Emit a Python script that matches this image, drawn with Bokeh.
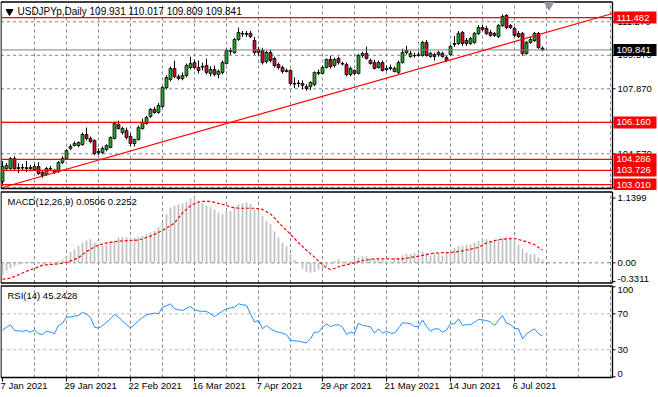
from bokeh.plotting import figure
from bokeh.layouts import column
from bokeh.models import Range1d, ColumnDataSource
from bokeh.core.properties import value
from bokeh.embed import file_html
from bokeh.resources import INLINE

# ---------------- data ----------------
opens = [103.16, 103.82, 103.82, 104.33, 103.87, 103.85, 103.82, 103.87, 103.77, 103.92,
         103.62, 103.52, 103.82, 103.72, 103.67, 104.13, 104.33, 104.84, 104.99, 104.99,
         105.04, 105.55, 105.35, 105.24, 104.63, 104.63, 104.79, 104.89, 105.35, 106.06,
         105.65, 105.75, 105.45, 105.09, 105.29, 105.85, 106.11, 106.46, 106.82, 106.67,
         106.97, 107.93, 108.34, 108.90, 108.49, 108.39, 108.54, 108.95, 109.20, 108.95,
         109.00, 109.05, 108.65, 108.85, 108.60, 108.70, 109.15, 109.76, 109.71, 110.37,
         110.68, 110.63, 110.68, 110.32, 109.86, 109.81, 109.25, 109.71, 109.41, 109.10,
         108.95, 108.80, 108.80, 108.14, 108.14, 108.14, 107.98, 107.98, 108.09, 108.65,
         108.65, 108.95, 109.36, 109.05, 109.41, 109.15, 109.10, 108.59, 108.80, 108.65,
         109.56, 109.66, 109.31, 109.20, 108.95, 109.20, 108.90, 108.95, 108.75, 108.70,
         109.20, 109.71, 109.51, 109.56, 109.56, 109.56, 110.22, 109.51, 109.61, 109.61,
         109.66, 109.46, 109.61, 110.12, 110.17, 110.73, 110.32, 110.17, 110.22, 110.68,
         110.98, 110.93, 110.73, 110.68, 110.52, 111.08, 111.59, 111.08, 110.93, 110.68,
         110.68, 109.66, 110.22, 110.32, 110.68, 109.931]
highs = [104.20, 104.10, 104.40, 104.45, 104.10, 104.05, 104.20, 104.00, 104.05, 104.15,
         103.75, 103.90, 103.95, 103.80, 104.20, 104.45, 104.80, 105.05, 105.20, 105.20,
         105.65, 105.90, 105.45, 105.30, 104.85, 104.95, 105.05, 105.45, 106.20, 106.25,
         105.95, 105.90, 105.60, 105.35, 106.00, 106.35, 106.50, 106.90, 106.95, 107.15,
         108.00, 108.55, 109.00, 109.30, 108.60, 108.70, 109.15, 109.50, 109.35, 109.30,
         109.20, 109.40, 109.00, 109.05, 108.85, 109.30, 109.90, 109.95, 110.45, 110.97,
         110.80, 110.80, 110.80, 110.50, 110.00, 109.95, 109.80, 109.85, 109.50, 109.20,
         109.05, 108.90, 108.85, 108.45, 108.30, 108.30, 108.10, 108.25, 108.75, 108.85,
         109.05, 109.40, 109.55, 109.45, 109.50, 109.25, 109.20, 109.00, 108.85, 109.65,
         109.75, 110.00, 109.40, 109.35, 109.30, 109.30, 109.05, 109.10, 109.00, 109.30,
         109.90, 110.05, 109.80, 109.70, 109.75, 110.30, 110.35, 109.75, 109.70, 109.80,
         109.75, 109.55, 110.10, 110.55, 110.80, 110.80, 110.45, 110.50, 110.75, 111.10,
         111.10, 111.05, 110.85, 110.75, 111.15, 111.65, 111.66, 111.15, 111.00, 110.80,
         110.75, 110.30, 110.50, 110.75, 110.75, 110.017]
lows = [102.95, 103.75, 103.78, 103.75, 103.60, 103.70, 103.65, 103.70, 103.70, 103.50,
        103.35, 103.45, 103.70, 103.55, 103.60, 104.05, 104.25, 104.75, 104.95, 104.90,
        104.98, 105.25, 105.10, 104.50, 104.50, 104.55, 104.70, 104.85, 105.30, 105.80,
        105.55, 105.30, 104.95, 104.95, 105.25, 105.80, 106.05, 106.40, 106.60, 106.60,
        106.90, 107.85, 108.25, 108.40, 108.30, 108.30, 108.45, 108.85, 108.85, 108.65,
        108.80, 108.60, 108.50, 108.50, 108.40, 108.60, 109.10, 109.60, 109.65, 110.30,
        110.50, 110.50, 110.45, 109.60, 109.55, 109.10, 109.15, 109.20, 108.95, 108.85,
        108.65, 108.70, 108.05, 107.90, 107.95, 107.85, 107.78, 107.80, 108.00, 108.55,
        108.60, 108.90, 108.90, 108.95, 109.10, 109.05, 108.50, 108.50, 108.55, 108.60,
        109.45, 109.35, 109.10, 108.85, 108.90, 108.75, 108.75, 108.80, 108.70, 108.60,
        109.15, 109.60, 109.45, 109.45, 109.50, 109.50, 109.50, 109.45, 109.30, 109.50,
        109.45, 109.25, 109.55, 110.00, 110.10, 110.05, 110.05, 110.10, 110.15, 110.60,
        110.80, 110.60, 110.50, 110.50, 110.45, 111.00, 110.90, 110.90, 110.50, 110.45,
        109.55, 109.60, 110.15, 110.25, 109.90, 109.809]
closes = [103.93, 103.98, 104.33, 103.82, 103.82, 103.87, 103.87, 103.82, 103.92, 103.57,
          103.47, 103.82, 103.80, 103.62, 104.13, 104.33, 104.74, 104.94, 105.09, 105.14,
          105.55, 105.35, 105.19, 104.58, 104.69, 104.84, 104.99, 105.40, 106.11, 105.85,
          105.85, 105.40, 105.09, 105.29, 105.90, 106.16, 106.41, 106.82, 106.67, 107.02,
          107.93, 108.44, 108.90, 108.49, 108.39, 108.54, 109.05, 109.15, 108.95, 108.80,
          108.97, 108.70, 108.85, 108.60, 108.75, 109.20, 109.81, 109.81, 110.37, 110.73,
          110.65, 110.68, 110.52, 109.71, 109.71, 109.20, 109.71, 109.31, 109.05, 108.95,
          108.75, 108.75, 108.14, 108.11, 108.16, 108.04, 107.88, 108.19, 108.70, 108.70,
          108.95, 109.36, 109.00, 109.36, 109.20, 109.13, 108.59, 108.90, 108.65, 109.56,
          109.66, 109.41, 109.15, 108.90, 109.20, 108.80, 108.85, 108.90, 108.90, 109.20,
          109.71, 109.81, 109.66, 109.55, 109.60, 110.22, 109.56, 109.66, 109.51, 109.71,
          109.51, 109.31, 110.02, 110.17, 110.68, 110.17, 110.17, 110.42, 110.68, 110.98,
          110.88, 110.68, 110.58, 110.58, 111.08, 111.54, 110.98, 110.98, 110.58, 110.52,
          109.66, 110.22, 110.37, 110.68, 109.96, 109.841]

macd_main = [-0.20, -0.14, -0.09, -0.05, -0.03, -0.01, 0.01, 0.02, 0.02, 0.01,
             -0.01, -0.01, 0.00, -0.01, 0.02, 0.05, 0.10, 0.18, 0.23, 0.29,
             0.35, 0.39, 0.41, 0.35, 0.32, 0.30, 0.32, 0.38, 0.39, 0.44,
             0.45, 0.44, 0.44, 0.44, 0.45, 0.47, 0.50, 0.53, 0.56, 0.62,
             0.70, 0.85, 0.97, 1.00, 1.03, 1.04, 1.06, 1.13, 1.13, 1.09,
             1.04, 1.00, 0.97, 0.94, 0.88, 0.85, 0.91, 0.91, 0.97, 1.02,
             1.04, 1.06, 1.03, 0.94, 0.91, 0.82, 0.73, 0.68, 0.55, 0.44,
             0.35, 0.29, 0.15, 0.05, 0.00, -0.10, -0.15, -0.17, -0.16, -0.12,
             -0.09, -0.06, -0.01, 0.03, 0.06, 0.02, 0.02, 0.03, 0.06, 0.09,
             0.11, 0.11, 0.08, 0.06, 0.05, 0.05, 0.03, 0.02, 0.08, 0.09,
             0.13, 0.15, 0.15, 0.17, 0.18, 0.20, 0.17, 0.12, 0.14, 0.17,
             0.12, 0.17, 0.23, 0.26, 0.29, 0.29, 0.31, 0.32, 0.35, 0.38,
             0.41, 0.41, 0.38, 0.39, 0.41, 0.44, 0.45, 0.45, 0.41, 0.32,
             0.24, 0.18, 0.15, 0.15, 0.09, 0.0506]
macd_signal = [-0.29, -0.28, -0.27, -0.24, -0.21, -0.18, -0.15, -0.12, -0.10, -0.07,
               -0.04, -0.035, -0.03, -0.025, -0.02, -0.005, 0.01, 0.035, 0.06, 0.09,
               0.145, 0.20, 0.24, 0.28, 0.31, 0.33, 0.35, 0.36, 0.37, 0.38,
               0.385, 0.39, 0.393, 0.396, 0.40, 0.42, 0.445, 0.47, 0.50, 0.535,
               0.57, 0.61, 0.655, 0.70, 0.79, 0.88, 0.94, 1.00, 1.04, 1.07,
               1.08, 1.08, 1.08, 1.065, 1.045, 1.03, 1.01, 0.98, 0.97, 0.96,
               0.96, 0.96, 0.96, 0.96, 0.95, 0.94, 0.90, 0.86, 0.79, 0.71,
               0.64, 0.57, 0.50, 0.43, 0.35, 0.29, 0.22, 0.16, 0.10, 0.03,
               -0.03, -0.09, -0.117, -0.10, -0.07, -0.05, -0.035, -0.015, 0.0, 0.02,
               0.04, 0.05, 0.06, 0.07, 0.07, 0.07, 0.07, 0.07, 0.07, 0.07,
               0.07, 0.08, 0.095, 0.105, 0.117, 0.13, 0.145, 0.16, 0.167, 0.173,
               0.18, 0.18, 0.18, 0.19, 0.20, 0.21, 0.225, 0.24, 0.255, 0.27,
               0.31, 0.35, 0.37, 0.39, 0.405, 0.415, 0.42, 0.425, 0.43, 0.41,
               0.39, 0.37, 0.345, 0.32, 0.27, 0.2252]

rsi = [52, 55, 57.8, 51.5, 51, 50.5, 51.5, 49.5, 52, 48,
       47, 50.7, 49.6, 47.8, 57, 59.6, 66.2, 66.5, 67.5, 68.1,
       71.8, 69.5, 66, 55.1, 54, 57, 60.5, 64.5, 69.3, 66.3,
       61.9, 58, 54.4, 57.8, 62.5, 66, 68.9, 69.8, 70.8, 70,
       77.4, 79, 81.1, 75.5, 74.5, 73.7, 76, 78.1, 74.4, 73.2,
       72.8, 72.6, 70, 67, 70, 73, 75.5, 76.5, 77.4, 81.1,
       80, 79.3, 70, 60.8, 62.6, 53.4, 57, 53.5, 50.8, 49.6,
       48.5, 47, 40.3, 40, 39.6, 38.5, 37.8, 42.2, 49.6, 49.6,
       55.2, 58.9, 55.5, 57.5, 57.8, 55.2, 47, 49.6, 48.5, 59.6,
       57, 56.5, 55.5, 48.5, 53.3, 48.5, 50.7, 48.5, 48.5, 54,
       60, 59.6, 59, 55.9, 55.9, 63.3, 56, 50.7, 53.3, 53.3,
       49.6, 52, 58.9, 58.9, 64.4, 57, 58, 58, 60.5, 63.7,
       63.3, 62.5, 61, 57, 63, 68.1, 59.6, 58.1, 54, 53.3,
       42.2, 47.8, 50.7, 53.3, 47.8, 45.2428]

date_ticks = [0, 16, 32, 48, 64, 80, 96, 112, 128]
date_labels = ["7 Jan 2021", "29 Jan 2021", "22 Feb 2021", "16 Mar 2021", "7 Apr 2021",
               "29 Apr 2021", "21 May 2021", "14 Jun 2021", "6 Jul 2021"]
grid_bars = [8, 16, 24, 32, 40, 48, 56, 64, 72, 80, 88, 96, 104, 112, 120, 128, 136, 144, 152]
price_ticks = [111.270, 109.570, 107.870, 106.170, 104.570, 102.870]
price_tick_labels = ["111.270", "109.570", "107.870", "106.170", "104.570", "102.870"]
red_levels = [111.482, 106.160, 104.286, 103.726, 103.010]
red_level_labels = ["111.482", "106.160", "104.286", "103.726", "103.010"]
bid_level = 109.841
bid_label = "109.841"
trend_x = [0, 152.5]
trend_y = [102.86, 111.69]
macd_ticks = [1.1399, 0.0, -0.3311]
macd_tick_labels = ["1.1399", "0.00", "-0.3311"]
rsi_ticks = [100, 70, 30, 0]
rsi_tick_labels = ["100", "70", "30", "0"]
rsi_levels = [70, 30]
title_main = "USDJPYp,Daily  109.931 110.017 109.809 109.841"
title_macd = "MACD(12,26,9) 0.0506 0.2252"
title_rsi = "RSI(14) 45.2428"

# ---------------- layout / style ----------------
FONT = value("Liberation Sans")
W = 658
PXB = 4.0                      # pixels per bar
X_AT0 = -2 / PXB               # bar value at the left pixel edge


def xpx(px):
    return X_AT0 + px / PXB


XAX = xpx(612)                 # price-axis line
XLEFT = xpx(0.5)
GRID = "#778899"
BULL = "#22a822"
BEAR = "#c8102e"
x_range = Range1d(X_AT0, xpx(W))


def make_panel(h, y0, y1):
    p = figure(width=W, height=h, x_range=x_range, y_range=Range1d(y0, y1),
               output_backend="svg", toolbar_location=None, min_border=0,
               x_axis_location=None, y_axis_location=None)
    p.outline_line_color = None
    p.grid.visible = False
    p.background_fill_color = "white"
    p.border_fill_color = "white"
    ypx = lambda py: y1 - py * (y1 - y0) / h
    return p, ypx


def frame_and_grid(p, ypx, top, bottom, hticks, hgrid_color=GRID):
    yt, yb = ypx(top), ypx(bottom)
    p.segment(x0=grid_bars, y0=[yb] * len(grid_bars), x1=grid_bars, y1=[yt] * len(grid_bars),
              line_color=GRID, line_dash="3 3", line_width=1)
    if hticks:
        p.segment(x0=[XLEFT] * len(hticks), y0=hticks, x1=[XAX] * len(hticks), y1=hticks,
                  line_color=hgrid_color, line_dash="3 3", line_width=1)
    p.segment(x0=[XLEFT, XLEFT, XLEFT, XAX], y0=[yt, yb, yb, yb],
              x1=[XAX, XAX, XLEFT, XAX], y1=[yt, yb, yt, yt],
              line_color="black", line_width=1.3)


def right_ticks(p, ticks, labels, baselines=None):
    n = len(ticks)
    p.segment(x0=[XAX] * n, y0=ticks, x1=[xpx(615)] * n, y1=ticks, line_color="black",
              line_width=1)
    if baselines is None:
        baselines = ["middle"] * n
    for t, lab, bl in zip(ticks, labels, baselines):
        p.text(x=[xpx(617)], y=[t], text=[lab], text_font=FONT, text_font_size="9.5px",
               text_color="black", text_align="left", text_baseline=bl)


# ---- main price panel ----
H1 = 190
p1, y1px = make_panel(H1, 102.707, 112.351)
frame_and_grid(p1, y1px, 1.5, 188, price_ticks)

idx = list(range(len(opens)))
src = ColumnDataSource(dict(
    x=idx, h=highs, l=lows,
    top=[max(a, b) for a, b in zip(opens, closes)],
    bot=[min(a, b) for a, b in zip(opens, closes)],
    col=[BULL if c >= o else BEAR for o, c in zip(opens, closes)],
))
p1.segment(x0="x", y0="h", x1="x", y1="l", source=src, line_color="black", line_width=1)
p1.vbar(x="x", width=0.72, top="top", bottom="bot", source=src,
        fill_color="col", line_color="black", line_width=0.8)

p1.segment(x0=[XLEFT] * len(red_levels), y0=red_levels, x1=[XAX] * len(red_levels),
           y1=red_levels, line_color="#ff0000", line_width=1.2)
p1.segment(x0=[XLEFT], y0=[bid_level], x1=[XAX], y1=[bid_level], line_color="#808080",
           line_width=1)
p1.line(trend_x, trend_y, line_color="#ff0000", line_width=1.2)

right_ticks(p1, price_ticks, price_tick_labels,
            ["middle", "middle", "middle", "middle", "middle", "bottom"])
box_x = xpx(634.5)
p1.rect(x=[box_x] * len(red_levels), y=red_levels, width=43, height=12,
        width_units="screen", height_units="screen", fill_color="#ff0000", line_color=None)
p1.rect(x=[box_x], y=[bid_level], width=43, height=12, width_units="screen",
        height_units="screen", fill_color="black", line_color=None)
p1.text(x=[xpx(616)] * (len(red_levels) + 1), y=red_levels + [bid_level],
        text=red_level_labels + [bid_label], text_font=FONT, text_font_size="9.5px",
        text_color="white", text_align="left", text_baseline="middle")

# title + markers
p1.scatter([xpx(9)], [y1px(11)], marker="inverted_triangle", size=7,
           fill_color="black", line_color="black")
p1.text(x=[xpx(17)], y=[y1px(11)], text=[title_main], text_font=FONT, text_font_size="10px",
        text_color="black", text_align="left", text_baseline="middle")
p1.scatter([xpx(548.5)], [y1px(4.5)], marker="inverted_triangle", size=9,
           fill_color="#8c96a0", line_color="#8c96a0")

# ---- MACD panel ----
H2 = 94
p2, y2px = make_panel(H2, -0.3820, 1.2729)
frame_and_grid(p2, y2px, 1.5, 92.5, [0.0])
p2.vbar(x=idx, width=0.3, top=macd_main, bottom=0, fill_color="#c0c0c0", line_color="#c0c0c0",
        line_width=0.5)
p2.line(idx, macd_signal, line_color="#ff0000", line_width=1.2, line_dash="3 2")
right_ticks(p2, macd_ticks, macd_tick_labels, ["middle", "middle", "bottom"])
p2.text(x=[xpx(7)], y=[y2px(11)], text=[title_macd], text_font=FONT, text_font_size="9.5px",
        text_color="black", text_align="left", text_baseline="middle")

# ---- RSI panel ----
H3 = 113
p3, y3px = make_panel(H3, -23.0, 102.56)
frame_and_grid(p3, y3px, 1.5, 93, rsi_levels, hgrid_color="#b8b8b8")
p3.line(idx, rsi, line_color="#1e90ff", line_width=1)
right_ticks(p3, rsi_ticks, rsi_tick_labels, ["top", "middle", "middle", "bottom"])
p3.text(x=[xpx(7)], y=[y3px(11)], text=[title_rsi], text_font=FONT, text_font_size="9.5px",
        text_color="black", text_align="left", text_baseline="middle")

# date axis
nd = len(date_ticks)
p3.segment(x0=date_ticks, y0=[y3px(93)] * nd, x1=date_ticks, y1=[y3px(97)] * nd,
           line_color="black", line_width=1)
p3.text(x=date_ticks, y=[y3px(101)] * nd, text=date_labels, x_offset=-2, text_font=FONT,
        text_font_size="9.5px", text_color="black", text_align="left", text_baseline="middle")

layout = column(p1, p2, p3, spacing=0)
open("out.html", "w").write(file_html(layout, INLINE))
